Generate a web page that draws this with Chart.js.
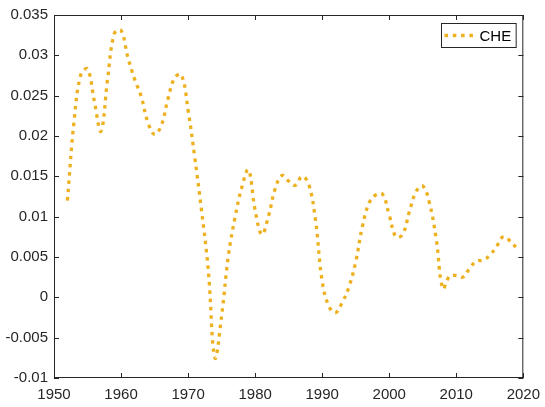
<!DOCTYPE html>
<html lang="en">
<head>
    <meta charset="UTF-8">
    <title>CHE</title>
    <script src="https://cdn.jsdelivr.net/npm/chart.js"></script>
    <style>
        html, body { margin: 0; padding: 0; background: #fff; }
        .chart-container { width: 545px; height: 407px; position: relative; }
    </style>
</head>
<body>
    <div class="chart-container">
        <canvas id="cheChart"></canvas>
    </div>

    <script>
        // data
        const years = [1952, 1953, 1954, 1955, 1956, 1957, 1958, 1959, 1960, 1961,
                       1962, 1963, 1964, 1965, 1966, 1967, 1968, 1969, 1970, 1971,
                       1972, 1973, 1974, 1975, 1976, 1977, 1978, 1979, 1980, 1981,
                       1982, 1983, 1984, 1985, 1986, 1987, 1988, 1989, 1990, 1991,
                       1992, 1993, 1994, 1995, 1996, 1997, 1998, 1999, 2000, 2001,
                       2002, 2003, 2004, 2005, 2006, 2007, 2008, 2009, 2010, 2011,
                       2012, 2013, 2014, 2015, 2016, 2017, 2018, 2019];
        const che = [0.0120, 0.0219, 0.0276, 0.0283, 0.0244, 0.0206, 0.0271, 0.0327, 0.0331, 0.0298,
                     0.0271, 0.0249, 0.0217, 0.0202, 0.0213, 0.0246, 0.0272, 0.0276, 0.0232, 0.0173,
                     0.0108, 0.0035, -0.0075, -0.0023, 0.0051, 0.0099, 0.0136, 0.0158, 0.0108, 0.0078,
                     0.0101, 0.0135, 0.0151, 0.0144, 0.0139, 0.0150, 0.0140, 0.0096, 0.0020, -0.0011,
                     -0.0019, -0.0006, 0.0013, 0.0044, 0.0088, 0.0117, 0.0127, 0.0128, 0.0102, 0.0075,
                     0.0078, 0.0106, 0.0131, 0.0138, 0.0117, 0.0073, 0.0011, 0.0026, 0.0027, 0.0025,
                     0.0036, 0.0045, 0.0046, 0.0052, 0.0063, 0.0075, 0.0070, 0.0061];
        const xTicks = [1950, 1960, 1970, 1980, 1990, 2000, 2010, 2020];
        const yTicks = [-0.01, -0.005, 0, 0.005, 0.01, 0.015, 0.02, 0.025, 0.03, 0.035];
        const yTickLabels = ['-0.01', '-0.005', '0', '0.005', '0.01', '0.015', '0.02', '0.025', '0.03', '0.035'];
        const seriesName = 'CHE';

        const lineColor = '#EDB120';
        const axisColor = '#262626';
        const fontFamily = '"Liberation Sans", Arial, Helvetica, sans-serif';

        // MATLAB look: boxed axes, ticks pointing inward, legend inside
        const matlabAxes = {
            id: 'matlabAxes',
            afterDraw(chart) {
                const ctx = chart.ctx;
                const a = chart.chartArea;
                const xs = chart.scales.x, ys = chart.scales.y;
                const tl = 5;
                ctx.save();
                ctx.strokeStyle = axisColor;
                ctx.lineWidth = 1;
                ctx.strokeRect(a.left + 0.5, a.top + 0.5, a.right - a.left - 1, a.bottom - a.top - 1);
                ctx.beginPath();
                xTicks.forEach(v => {
                    const px = Math.round(xs.getPixelForValue(v)) + 0.5;
                    ctx.moveTo(px, a.bottom); ctx.lineTo(px, a.bottom - tl);
                    ctx.moveTo(px, a.top); ctx.lineTo(px, a.top + tl);
                });
                yTicks.forEach(v => {
                    const py = Math.round(ys.getPixelForValue(v)) + 0.5;
                    ctx.moveTo(a.left, py); ctx.lineTo(a.left + tl, py);
                    ctx.moveTo(a.right, py); ctx.lineTo(a.right - tl, py);
                });
                ctx.stroke();

                // legend box, top right inside the axes
                ctx.font = '15px ' + fontFamily;
                const tw = ctx.measureText(seriesName).width;
                const w = 3 + 31 + 4 + tw + 5, h = 24;
                const bx = Math.round(a.right - 8 - w) + 0.5, by = Math.round(a.top + 8) + 0.5;
                ctx.fillStyle = '#fff';
                ctx.fillRect(bx, by, w, h);
                ctx.strokeRect(bx, by, w, h);
                ctx.strokeStyle = lineColor;
                ctx.lineWidth = 3.3;
                ctx.setLineDash([3.5, 4.8]);
                ctx.beginPath();
                ctx.moveTo(bx + 3, by + h / 2);
                ctx.lineTo(bx + 34, by + h / 2);
                ctx.stroke();
                ctx.setLineDash([]);
                ctx.fillStyle = '#000';
                ctx.textBaseline = 'middle';
                ctx.fillText(seriesName, bx + 38, by + h / 2 + 1);
                ctx.restore();
            }
        };

        const ctx = document.getElementById('cheChart').getContext('2d');
        new Chart(ctx, {
            type: 'line',
            data: {
                datasets: [{
                    label: seriesName,
                    data: years.map((y, i) => ({ x: y, y: che[i] })),
                    borderColor: lineColor,
                    borderWidth: 3.3,
                    borderDash: [3.5, 4.8],
                    borderCapStyle: 'butt',
                    pointRadius: 0,
                    tension: 0.4,
                    fill: false
                }]
            },
            options: {
                responsive: true,
                maintainAspectRatio: false,
                animation: false,
                layout: { padding: { left: 0, right: 21, top: 9, bottom: 0 } },
                plugins: {
                    legend: { display: false },
                    tooltip: { enabled: false }
                },
                scales: {
                    x: {
                        type: 'linear',
                        min: 1950,
                        max: 2020,
                        afterBuildTicks: s => { s.ticks = xTicks.map(v => ({ value: v })); },
                        afterFit: s => { s.height = 29; },
                        grid: { display: false, drawTicks: false },
                        border: { display: false },
                        ticks: {
                            color: axisColor,
                            padding: 5,
                            maxRotation: 0,
                            font: { family: fontFamily, size: 15, lineHeight: 1.6 },
                            callback: v => String(v)
                        }
                    },
                    y: {
                        type: 'linear',
                        min: -0.01,
                        max: 0.035,
                        afterBuildTicks: s => { s.ticks = yTicks.map(v => ({ value: v })); },
                        afterFit: s => { s.width = 54; },
                        grid: { display: false, drawTicks: false },
                        border: { display: false },
                        ticks: {
                            color: axisColor,
                            padding: 6,
                            font: { family: fontFamily, size: 15 },
                            callback: (v, i) => yTickLabels[i]
                        }
                    }
                }
            },
            plugins: [matlabAxes]
        });
    </script>
</body>
</html>
